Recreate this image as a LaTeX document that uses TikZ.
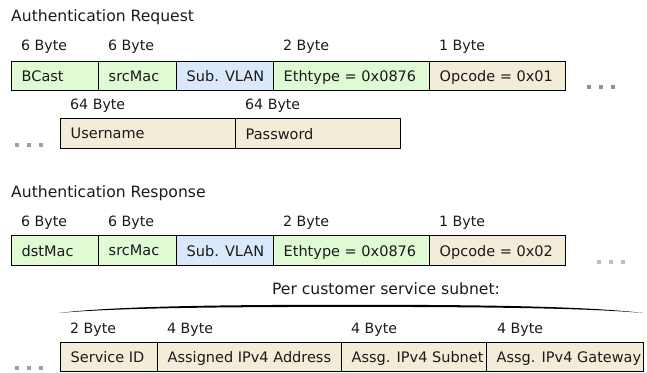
\documentclass[tikz,border=0pt]{standalone}
\usepackage{fontspec}
\setmainfont{DejaVu Sans}
\definecolor{ethgreen}{HTML}{E0FAD4}
\definecolor{vlanblue}{HTML}{DAE8FC}
\definecolor{paybeige}{HTML}{F2ECD9}
\definecolor{inkgray}{HTML}{1A1A1A}

% one field of a frame: name, left x, right x, top y, bottom y, style, text
\newcommand{\fieldbox}[7]{%
  \pgfmathsetmacro{\fw}{#3-#2}%
  \pgfmathsetmacro{\fh}{#5-#4}%
  \node[fieldcell,#6,minimum width=\fw pt,minimum height=\fh pt] (#1) at (#2,#4) {#7};}

\begin{document}
\begin{tikzpicture}[x=1pt,y=-1pt,
  font=\fontsize{14.2}{17}\selectfont, text=inkgray,
  fieldcell/.style={draw=black,line width=1.4pt,rectangle,anchor=north west,
    inner xsep=10pt,inner ysep=0pt,text depth=0pt,font=\fontsize{14.5}{17}\selectfont},
  eth/.style={fill=ethgreen},
  vlan/.style={fill=vlanblue},
  pay/.style={fill=paybeige},
  title/.style={anchor=base west,inner sep=0pt,font=\fontsize{15.6}{18}\selectfont},
  sizelbl/.style={anchor=base west,inner sep=0pt},
]
\useasboundingbox (0,0) rectangle (647,372);

% ---------------- Authentication Request ----------------
\node[title] (reqtitle) at (11,21.5) {Authentication Request};

\node[sizelbl] (rqs1) at (21,50) {6 Byte};
\node[sizelbl] (rqs2) at (108,50) {6 Byte};
\node[sizelbl] (rqs3) at (283,50) {2 Byte};
\node[sizelbl] (rqs4) at (439,50) {1 Byte};

\fieldbox{rqbcast}{11}{98}{61}{90}{eth}{\makebox[67pt][l]{BCast}}
\fieldbox{rqsrc}{98}{176}{61}{90}{eth}{\makebox[58pt][l]{srcMac}}
\fieldbox{rqvlan}{176}{273}{61}{90}{vlan}{\makebox[77pt][l]{Sub. VLAN}}
\fieldbox{rqeth}{273}{429}{61}{90}{eth}{\makebox[136pt][l]{Ethtype = 0x0876}}
\fieldbox{rqop}{429}{565}{61}{90}{pay}{\makebox[116pt][l]{Opcode = 0x01}}

\foreach \dx in {589,601,613}
  \fill[gray!85] (\dx-1.6,87-1.6) rectangle (\dx+1.6,87+1.6);

\node[sizelbl] (rqs5) at (70,109) {64 Byte};
\node[sizelbl] (rqs6) at (245,109) {64 Byte};

\fieldbox{rquser}{60}{235}{118}{148}{pay}{\makebox[155pt][l]{Username}}
\fieldbox{rqpass}{235}{400}{118}{148}{pay}{\makebox[145pt][l]{Password}}

\foreach \dx in {17,29,41}
  \fill[gray!75] (\dx-1.6,145-1.6) rectangle (\dx+1.6,145+1.6);

% ---------------- Authentication Response ----------------
\node[title] (restitle) at (11,197.5) {Authentication Response};

\node[sizelbl] (rss1) at (21,226) {6 Byte};
\node[sizelbl] (rss2) at (108,226) {6 Byte};
\node[sizelbl] (rss3) at (283,226) {2 Byte};
\node[sizelbl] (rss4) at (439,226) {1 Byte};

\fieldbox{rsdst}{11}{98}{235}{265}{eth}{\makebox[67pt][l]{dstMac}}
\fieldbox{rssrc}{98}{176}{235}{265}{eth}{\makebox[58pt][l]{srcMac}}
\fieldbox{rsvlan}{176}{273}{235}{265}{vlan}{\makebox[77pt][l]{Sub. VLAN}}
\fieldbox{rseth}{273}{429}{235}{265}{eth}{\makebox[136pt][l]{Ethtype = 0x0876}}
\fieldbox{rsop}{429}{565}{235}{265}{pay}{\makebox[116pt][l]{Opcode = 0x02}}

\foreach \dx in {599,611,623}
  \fill[gray!50] (\dx-1.6,262-1.6) rectangle (\dx+1.6,262+1.6);

% per-subnet block with its overbrace
\node[anchor=base,inner sep=0pt,font=\fontsize{15.6}{18}\selectfont] (subnetlbl) at (386,294.5) {Per customer service subnet:};
\fill[black] (59,313) .. controls (120,305.3) and (250,304.8) .. (351,304.8)
  .. controls (450,304.8) and (580,305.3) .. (643,313)
  .. controls (580,307.4) and (450,306.9) .. (351,306.9)
  .. controls (250,306.9) and (120,307.4) .. cycle;

\node[sizelbl] (rss5) at (70,333) {2 Byte};
\node[sizelbl] (rss6) at (167,333) {4 Byte};
\node[sizelbl] (rss7) at (351,333) {4 Byte};
\node[sizelbl] (rss8) at (497,333) {4 Byte};

\fieldbox{rssid}{60}{157}{342}{371}{pay}{\makebox[77pt][l]{Service ID}}
\fieldbox{rsaddr}{157}{341}{342}{371}{pay}{\makebox[164pt][l]{Assigned IPv4 Address}}
\fieldbox{rsnet}{341}{486}{342}{371}{pay}{\makebox[125pt][l]{Assg. IPv4 Subnet}}
\fieldbox{rsgw}{486}{643}{342}{371}{pay}{\makebox[137pt][l]{Assg. IPv4 Gateway}}

\foreach \dx in {17,29,41}
  \fill[gray!75] (\dx-1.6,368-1.6) rectangle (\dx+1.6,368+1.6);
\end{tikzpicture}
\end{document}
